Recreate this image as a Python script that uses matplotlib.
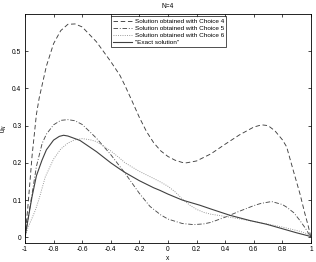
import numpy as np
import matplotlib
matplotlib.use("Agg")
import matplotlib.pyplot as plt

plt.rcParams['font.family'] = ['Liberation Sans', 'DejaVu Sans']

# values
x4 = [-1, -0.98, -0.95, -0.92, -0.9, -0.85, -0.8, -0.75, -0.7, -0.65, -0.6, -0.5, -0.4, -0.336,
      -0.3, -0.25, -0.2, -0.15, -0.1, -0.05, 0, 0.05, 0.1, 0.13, 0.2, 0.3, 0.4, 0.5, 0.6, 0.655,
      0.7, 0.748, 0.8, 0.83, 0.876, 0.923, 0.958, 0.98, 1]
y4 = [0, 0.08, 0.22, 0.33, 0.375, 0.46, 0.52, 0.555, 0.572, 0.573, 0.565, 0.525, 0.472, 0.435,
      0.407, 0.365, 0.322, 0.284, 0.254, 0.232, 0.217, 0.207, 0.201, 0.2, 0.205, 0.224, 0.25, 0.275, 0.296, 0.302,
      0.3, 0.286, 0.262, 0.243, 0.18, 0.117, 0.063, 0.032, 0]

x5 = [-1, -0.98, -0.95, -0.92, -0.88, -0.85, -0.8, -0.75, -0.7, -0.65, -0.6, -0.545, -0.5, -0.4,
      -0.336, -0.3, -0.2, -0.126, -0.05, 0, 0.1, 0.18, 0.25, 0.3, 0.4, 0.5, 0.6, 0.65, 0.725,
      0.8, 0.83, 0.88, 0.923, 0.96, 1]
y5 = [0, 0.045, 0.117, 0.19, 0.252, 0.277, 0.302, 0.314, 0.316, 0.313, 0.303, 0.283, 0.266, 0.222,
      0.19, 0.172, 0.118, 0.083, 0.06, 0.049, 0.037, 0.034, 0.036, 0.04, 0.054, 0.07, 0.085, 0.091, 0.096,
      0.088, 0.081, 0.066, 0.045, 0.025, 0]

x6 = [-1, -0.98, -0.95, -0.928, -0.9, -0.858, -0.8, -0.75, -0.7, -0.65, -0.6, -0.545, -0.5, -0.4,
      -0.336, -0.3, -0.2, -0.1, -0.05, 0, 0.05, 0.1, 0.15, 0.2, 0.25, 0.3, 0.434, 0.55, 0.69, 0.806,
      0.923, 1]
y6 = [0, 0.025, 0.052, 0.072, 0.105, 0.162, 0.21, 0.237, 0.253, 0.262, 0.265, 0.262, 0.257, 0.232,
      0.212, 0.2, 0.177, 0.158, 0.148, 0.137, 0.122, 0.103, 0.087, 0.075, 0.067, 0.062, 0.054, 0.046, 0.036, 0.027,
      0.016, 0.006]

xe = [-1, -0.98, -0.951, -0.92, -0.881, -0.85, -0.8, -0.76, -0.73, -0.7, -0.65, -0.615, -0.5, -0.4,
      -0.336, -0.3, -0.2, -0.1, -0.056, 0, 0.1, 0.224, 0.3, 0.434, 0.573, 0.69, 0.8, 0.9, 1]
ye = [0, 0.045, 0.108, 0.165, 0.207, 0.235, 0.261, 0.271, 0.274, 0.272, 0.265, 0.26, 0.23, 0.2,
      0.183, 0.174, 0.152, 0.133, 0.126, 0.116, 0.1, 0.086, 0.076, 0.059, 0.045, 0.035, 0.023, 0.012, 0.002]

labels = ['Solution obtained with Choice 4', 'Solution obtained with Choice 5',
          'Solution obtained with Choice 6', '"Exact solution"']

fig = plt.figure(figsize=(3.16, 2.62), dpi=100)
ax = fig.add_axes([0.079, 0.073, 0.905, 0.874])

lw = 0.65
ax.plot(x4, y4, color='0.25', lw=lw, linestyle=(0, (5, 3)), label=labels[0])
ax.plot(x5, y5, color='0.3', lw=lw, linestyle=(0, (5, 2, 1, 2)), label=labels[1])
ax.plot(x6, y6, color='0.55', lw=lw, linestyle=(0, (1, 1.5)), label=labels[2])
ax.plot(xe, ye, color='0.25', lw=0.8, label=labels[3])

ax.set_xlim(-1, 1)
ax.set_ylim(-0.015, 0.6)
ax.set_xticks(np.arange(-1, 1.01, 0.2))
ax.set_xticklabels(['-1', '-0.8', '-0.6', '-0.4', '-0.2', '0', '0.2', '0.4', '0.6', '0.8', '1'])
ax.set_yticks([0, 0.1, 0.2, 0.3, 0.4, 0.5])
ax.set_yticklabels(['0', '0.1', '0.2', '0.3', '0.4', '0.5'])
ax.tick_params(direction='in', length=2.5, width=0.5, labelsize=4.8, top=True, right=True, pad=2.5)
for s in ax.spines.values():
    s.set_linewidth(0.6)

ax.set_title('N=4', fontsize=4.8, pad=4)
ax.set_xlabel('x', fontsize=4.8, labelpad=1)
ax.set_ylabel('u$_N$', fontsize=4.8, labelpad=2)

leg = ax.legend(loc='upper left', bbox_to_anchor=(0.30, 0.99), fontsize=4.6, frameon=True,
                fancybox=False, handlelength=3.0, handletextpad=0.4, borderpad=0.35,
                labelspacing=0.25, borderaxespad=0)
leg.get_frame().set_edgecolor('black')
leg.get_frame().set_linewidth(0.6)

fig.savefig('out.png', dpi=100)
